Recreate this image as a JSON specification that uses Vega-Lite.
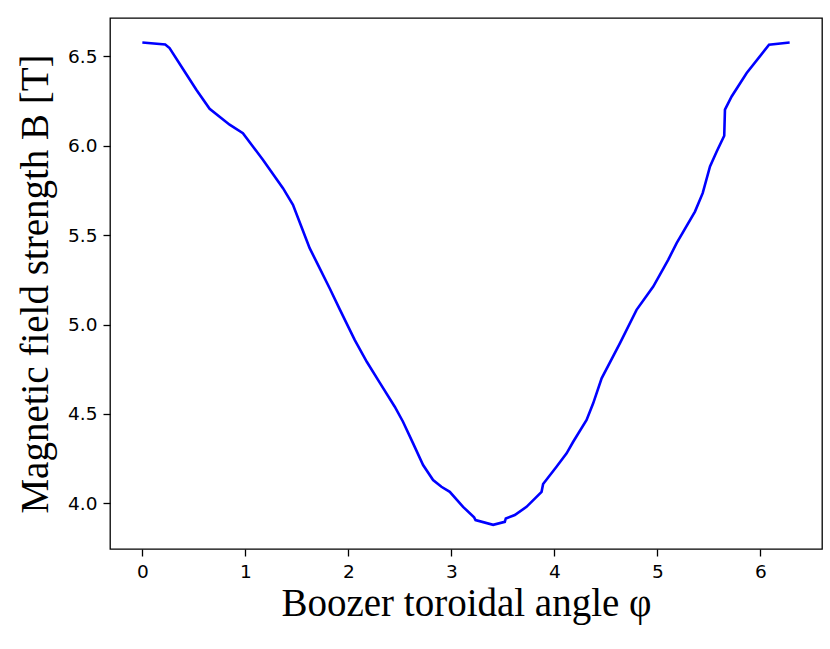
{
  "$schema": "https://vega.github.io/schema/vega-lite/v6.json",
  "width": 712,
  "height": 531,
  "autosize": {"type": "none"},
  "padding": {"left": 110, "top": 18, "right": 8, "bottom": 100},
  "background": "white",
  "config": {
    "view": {"stroke": "black", "strokeWidth": 1.3},
    "axis": {
      "domain": false,
      "grid": false,
      "tickColor": "black",
      "tickSize": 7,
      "tickWidth": 1.3,
      "labelFont": "DejaVu Sans",
      "labelFontSize": 18.5,
      "labelColor": "black",
      "labelPadding": 6,
      "titleFont": "Liberation Serif",
      "titleFontSize": 39,
      "titleFontWeight": "normal",
      "titleColor": "black"
    }
  },
  "data": {
    "values": [
      {"phi": 0.0, "B": 6.578},
      {"phi": 0.222, "B": 6.567},
      {"phi": 0.264, "B": 6.547},
      {"phi": 0.41, "B": 6.416},
      {"phi": 0.524, "B": 6.314},
      {"phi": 0.653, "B": 6.207},
      {"phi": 0.847, "B": 6.118},
      {"phi": 0.976, "B": 6.071},
      {"phi": 1.17, "B": 5.922},
      {"phi": 1.365, "B": 5.763},
      {"phi": 1.462, "B": 5.67},
      {"phi": 1.543, "B": 5.548},
      {"phi": 1.624, "B": 5.427},
      {"phi": 1.705, "B": 5.334},
      {"phi": 1.818, "B": 5.203},
      {"phi": 1.915, "B": 5.086},
      {"phi": 2.061, "B": 4.914},
      {"phi": 2.18, "B": 4.79},
      {"phi": 2.304, "B": 4.675},
      {"phi": 2.45, "B": 4.54},
      {"phi": 2.53, "B": 4.456},
      {"phi": 2.628, "B": 4.335},
      {"phi": 2.725, "B": 4.214},
      {"phi": 2.822, "B": 4.13},
      {"phi": 2.903, "B": 4.092},
      {"phi": 2.984, "B": 4.064},
      {"phi": 3.113, "B": 3.98},
      {"phi": 3.22, "B": 3.921},
      {"phi": 3.234, "B": 3.906},
      {"phi": 3.405, "B": 3.879},
      {"phi": 3.518, "B": 3.896},
      {"phi": 3.528, "B": 3.915},
      {"phi": 3.615, "B": 3.934},
      {"phi": 3.729, "B": 3.98},
      {"phi": 3.875, "B": 4.064},
      {"phi": 3.89, "B": 4.108},
      {"phi": 4.02, "B": 4.204},
      {"phi": 4.118, "B": 4.279},
      {"phi": 4.182, "B": 4.344},
      {"phi": 4.312, "B": 4.466},
      {"phi": 4.376, "B": 4.559},
      {"phi": 4.458, "B": 4.699},
      {"phi": 4.635, "B": 4.895},
      {"phi": 4.797, "B": 5.082},
      {"phi": 4.959, "B": 5.212},
      {"phi": 5.104, "B": 5.362},
      {"phi": 5.186, "B": 5.455},
      {"phi": 5.364, "B": 5.632},
      {"phi": 5.439, "B": 5.735},
      {"phi": 5.51, "B": 5.884},
      {"phi": 5.575, "B": 5.968},
      {"phi": 5.648, "B": 6.056},
      {"phi": 5.655, "B": 6.202},
      {"phi": 5.72, "B": 6.276},
      {"phi": 5.866, "B": 6.407},
      {"phi": 6.083, "B": 6.566},
      {"phi": 6.283, "B": 6.578}
    ]
  },
  "mark": {"type": "line", "color": "#0000ff", "strokeWidth": 2.6, "clip": true},
  "encoding": {
    "x": {
      "field": "phi",
      "type": "quantitative",
      "scale": {"domain": [-0.314, 6.597], "nice": false, "zero": false},
      "axis": {"title": "Boozer toroidal angle φ", "values": [0, 1, 2, 3, 4, 5, 6], "format": "d", "titlePadding": 4}
    },
    "y": {
      "field": "B",
      "type": "quantitative",
      "scale": {"domain": [3.744, 6.715], "nice": false, "zero": false},
      "axis": {"title": "Magnetic field strength B [T]", "values": [4.0, 4.5, 5.0, 5.5, 6.0, 6.5], "format": ".1f", "titlePadding": 12}
    }
  }
}
